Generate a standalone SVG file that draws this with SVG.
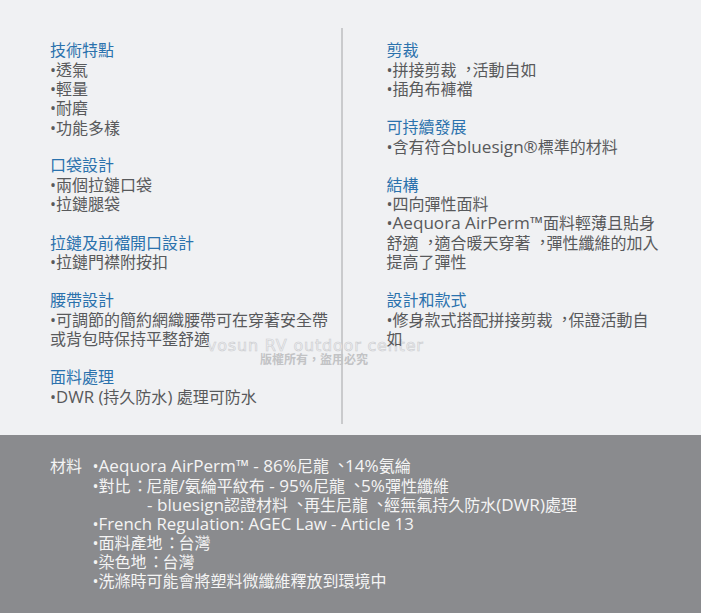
<svg xmlns="http://www.w3.org/2000/svg" width="701" height="613" viewBox="0 0 701 613" lang="zh-Hant" xml:lang="zh-Hant">
<style>
text{font-family:"Noto Sans CJK TC",sans-serif;font-size:16px}
.h{fill:#2b72ad}
.b{fill:#58595b}
.w{fill:#f4f4f4}
.l{font-family:"Open Sans",sans-serif;font-size:16.8px}
.a{font-family:"Open Sans",sans-serif;font-size:17.1px}
.d{font-family:"Open Sans",sans-serif}
.wm{font-family:"DejaVu Sans",sans-serif;font-size:16px;letter-spacing:.8px;fill:#f0f1f3;stroke:#cbcccf;stroke-width:.6px}
.wm2{font-size:12px;font-weight:700;fill:#c2c3c5}
</style>
<rect width="701" height="435" fill="#f0f1f3"/>
<rect y="435" width="701" height="178" fill="#8a8b8e"/>
<line x1="342" y1="28" x2="342" y2="424" stroke="#a3a4a6" stroke-width="1"/>
<g id="left">
<text class="h" x="50" y="56">技術特點</text>
<text class="b" x="50" y="76"><tspan class="d">•</tspan>透氣</text>
<text class="b" x="50" y="95"><tspan class="d">•</tspan>輕量</text>
<text class="b" x="50" y="114"><tspan class="d">•</tspan>耐磨</text>
<text class="b" x="50" y="134"><tspan class="d">•</tspan>功能多樣</text>
<text class="h" x="50" y="171">口袋設計</text>
<text class="b" x="50" y="191"><tspan class="d">•</tspan>兩個拉鏈口袋</text>
<text class="b" x="50" y="210"><tspan class="d">•</tspan>拉鏈腿袋</text>
<text class="h" x="50" y="249">拉鏈及前襠開口設計</text>
<text class="b" x="50" y="268"><tspan class="d">•</tspan>拉鏈門襟附按扣</text>
<text class="h" x="50" y="306">腰帶設計</text>
<text class="b" x="50" y="326"><tspan class="d">•</tspan>可調節的簡約網織腰帶可在穿著安全帶</text>
<text class="b" x="50" y="345">或背包時保持平整舒適</text>
<text class="h" x="50" y="383">面料處理</text>
<text class="b" x="50" y="403"><tspan class="d">•</tspan><tspan class="l">DWR (</tspan>持久防水<tspan class="l">) </tspan>處理可防水</text>
</g>
<g id="watermark">
<text class="wm" x="207" y="351">vosun RV outdoor center</text>
<text class="wm2" x="260" y="364">版權所有，盜用必究</text>
</g>
<g id="right">
<text class="h" x="386.5" y="56">剪裁</text>
<text class="b" x="386.5" y="76"><tspan class="d">•</tspan>拼接剪裁<tspan dx="4" dy="-1.5">，</tspan><tspan dx="-4" dy="1.5">活</tspan>動自如</text>
<text class="b" x="386.5" y="95"><tspan class="d">•</tspan>插角布褲襠</text>
<text class="h" x="386.5" y="133">可持續發展</text>
<text class="b" x="386.5" y="153"><tspan class="d">•</tspan>含有符合<tspan class="a">bluesign®</tspan>標準的材料</text>
<text class="h" x="386.5" y="191">結構</text>
<text class="b" x="386.5" y="210"><tspan class="d">•</tspan>四向彈性面料</text>
<text class="b" x="386.5" y="229"><tspan class="d">•</tspan><tspan class="a">Aequora AirPerm™</tspan>面料輕薄且貼身</text>
<text class="b" x="386.5" y="249">舒適<tspan dx="4" dy="-1.5">，</tspan><tspan dx="-4" dy="1.5">適</tspan>合暖天穿著<tspan dx="4" dy="-1.5">，</tspan><tspan dx="-4" dy="1.5">彈</tspan>性纖維的加入</text>
<text class="b" x="386.5" y="268">提高了彈性</text>
<text class="h" x="386.5" y="306">設計和款式</text>
<text class="b" x="386.5" y="326"><tspan class="d">•</tspan>修身款式搭配拼接剪裁<tspan dx="4" dy="-1.5">，</tspan><tspan dx="-4" dy="1.5">保</tspan>證活動自</text>
<text class="b" x="386.5" y="345">如</text>
</g>
<g id="materials">
<text class="w" x="50" y="472">材料</text>
<text class="w" x="92.5" y="472"><tspan class="d">•</tspan><tspan class="a">Aequora AirPerm™ - 86%</tspan>尼龍<tspan dx="4" dy="-1.5">、</tspan><tspan class="a" dx="-4" dy="1.5">14%</tspan>氨綸</text>
<text class="w" x="92.5" y="492"><tspan class="d">•</tspan>對比<tspan dx="1.5">：</tspan><tspan dx="-1.5">尼</tspan>龍<tspan class="a">/</tspan>氨綸平紋布<tspan class="a"> - 95%</tspan>尼龍<tspan dx="4" dy="-1.5">、</tspan><tspan class="a" dx="-4" dy="1.5">5%</tspan>彈性纖維</text>
<text class="w" x="147" y="511"><tspan class="a">- bluesign</tspan>認證材料<tspan dx="4" dy="-1.5">、</tspan><tspan dx="-4" dy="1.5">再</tspan>生尼龍<tspan dx="4" dy="-1.5">、</tspan><tspan dx="-4" dy="1.5">經</tspan>無氟持久防水<tspan class="a">(DWR)</tspan>處理</text>
<text class="w" x="92.5" y="530"><tspan class="d">•</tspan><tspan class="l">French Regulation: AGEC Law - Article 13</tspan></text>
<text class="w" x="92.5" y="549"><tspan class="d">•</tspan>面料產地<tspan dx="1.5">：</tspan><tspan dx="-1.5">台</tspan>灣</text>
<text class="w" x="92.5" y="568"><tspan class="d">•</tspan>染色地<tspan dx="1.5">：</tspan><tspan dx="-1.5">台</tspan>灣</text>
<text class="w" x="92.5" y="587"><tspan class="d">•</tspan>洗滌時可能會將塑料微纖維釋放到環境中</text>
</g>
</svg>
